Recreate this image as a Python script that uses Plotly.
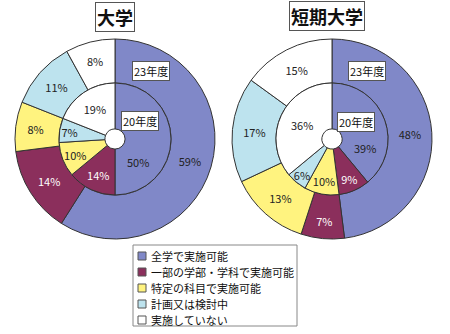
import math
import plotly.graph_objects as go

# Categories (legend order)
categories = ["全学で実施可能", "一部の学部・学科で実施可能", "特定の科目で実施可能", "計画又は検討中", "実施していない"]
colors = ["#8088c8", "#8b2f5c", "#fff37f", "#bde3ee", "#ffffff"]
text_colors = ["#222222", "#ffffff", "#222222", "#222222", "#222222"]

# 大学
univ_23 = [59, 14, 8, 11, 8]
univ_20 = [50, 14, 10, 7, 19]
# 短期大学
junior_23 = [48, 7, 13, 17, 15]
junior_20 = [39, 9, 10, 6, 36]

W, H = 450, 334
FONT = "Noto Sans CJK JP"


def px(x):
    return x / W


def py(y):
    return 1 - y / H


def dom(cx, cy, r):
    """Pie domain in paper coords for a pie centered at pixel (cx, cy) of radius r."""
    return dict(x=[px(cx - r), px(cx + r)], y=[py(cy + r), py(cy - r)])


def ring(values, cx, cy, r, hole, positions):
    return go.Pie(
        labels=categories,
        values=values,
        text=[f"{v}%" for v in values],
        textinfo="text",
        textposition=positions,
        insidetextorientation="horizontal",
        textfont=dict(family=FONT, size=11, color=text_colors),
        marker=dict(colors=colors, line=dict(color="#333333", width=1)),
        sort=False,
        direction="clockwise",
        rotation=0,
        hole=hole,
        domain=dom(cx, cy, r),
        showlegend=False,
        hoverinfo="label+text",
    )


def first_slice_label(values, cx, cy, radius, frac=0.75):
    """Label of the first (clockwise from 12 o'clock) slice, set in the lower part
    of the slice so it clears the year tag."""
    total = sum(values)
    ang = math.radians(360 * values[0] / total * frac)
    x = cx + radius * math.sin(ang)
    y = cy - radius * math.cos(ang)
    fig.add_annotation(x=px(x), y=py(y), xref="paper", yref="paper",
                       text=f"{values[0]}%", showarrow=False,
                       xanchor="center", yanchor="middle",
                       font=dict(family=FONT, size=11, color=text_colors[0]))


inner_pos = ["none", "inside", "inside", "inside", "inside"]

fig = go.Figure()
# left: 大学
fig.add_trace(ring(univ_23, 115, 139, 100, 0.56, "inside"))
fig.add_trace(ring(univ_20, 115, 139, 56, 0.18, inner_pos))
# right: 短期大学
fig.add_trace(ring(junior_23, 332, 139, 100, 0.56, "inside"))
fig.add_trace(ring(junior_20, 332, 139, 56, 0.18, inner_pos))

first_slice_label(univ_20, 115, 139, 32)
first_slice_label(junior_20, 332, 139, 34)


def box_label(text, x, y, size, bold=False, pad=1):
    fig.add_annotation(
        x=px(x), y=py(y), xref="paper", yref="paper",
        text=f"<b>{text}</b>" if bold else text,
        showarrow=False, xanchor="center", yanchor="middle",
        font=dict(family=FONT, size=size, color="#111111"),
        bgcolor="#ffffff", bordercolor="#555555", borderwidth=1, borderpad=pad,
    )


box_label("大学", 115, 17, 18, bold=True)
box_label("短期大学", 327, 16, 18, bold=True)
box_label("23年度", 151, 71, 11)
box_label("20年度", 140, 121, 11)
box_label("23年度", 367, 71, 11)
box_label("20年度", 356, 122, 11)

# legend panel
shapes = [dict(type="rect", xref="paper", yref="paper",
               x0=px(133), x1=px(297), y0=py(326), y1=py(245),
               line=dict(color="#888888", width=1), fillcolor="#ffffff", layer="below")]
row_y = 256
for name, col in zip(categories, colors):
    shapes.append(dict(type="rect", xref="paper", yref="paper",
                       x0=px(138), x1=px(146), y0=py(row_y + 4), y1=py(row_y - 4),
                       line=dict(color="#555555", width=1), fillcolor=col))
    fig.add_annotation(x=px(149), y=py(row_y), xref="paper", yref="paper",
                       text=name, showarrow=False, xanchor="left", yanchor="middle",
                       font=dict(family=FONT, size=11, color="#111111"))
    row_y += 16

fig.update_layout(
    width=W, height=H,
    margin=dict(l=0, r=0, t=0, b=0),
    paper_bgcolor="#ffffff",
    plot_bgcolor="#ffffff",
    showlegend=False,
    shapes=shapes,
    uniformtext=dict(mode="show", minsize=11),
)

fig.write_html("out.html")
